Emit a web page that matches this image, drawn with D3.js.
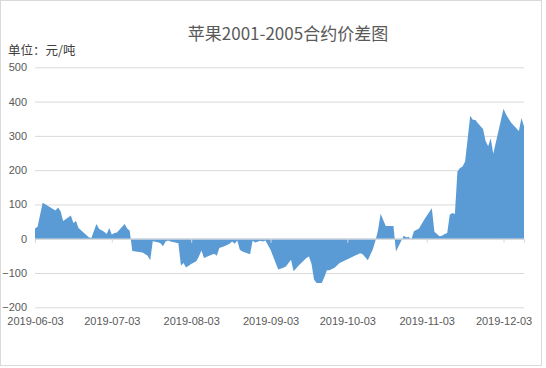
<!DOCTYPE html>
<html><head><meta charset="utf-8">
<script src="https://cdn.jsdelivr.net/npm/d3@7"></script>
<style>body{margin:0;background:#fff}svg{display:block}</style>
</head><body>
<script>
const title = "苹果2001-2005合约价差图";
const unitLabel = "单位：元/吨";
const dates = ["2019-06-03","2019-06-04","2019-06-06","2019-06-11","2019-06-12","2019-06-13","2019-06-14","2019-06-17","2019-06-18","2019-06-19","2019-06-20","2019-06-24","2019-06-25","2019-06-27","2019-06-28","2019-06-30","2019-07-01","2019-07-02","2019-07-03","2019-07-04","2019-07-05","2019-07-08","2019-07-09","2019-07-10","2019-07-11","2019-07-15","2019-07-17","2019-07-18","2019-07-19","2019-07-21","2019-07-22","2019-07-23","2019-07-24","2019-07-25","2019-07-26","2019-07-29","2019-07-30","2019-07-31","2019-08-01","2019-08-03","2019-08-05","2019-08-06","2019-08-07","2019-08-08","2019-08-10","2019-08-12","2019-08-13","2019-08-14","2019-08-16","2019-08-18","2019-08-19","2019-08-20","2019-08-21","2019-08-22","2019-08-23","2019-08-26","2019-08-27","2019-08-28","2019-08-30","2019-08-31","2019-09-01","2019-09-03","2019-09-06","2019-09-08","2019-09-09","2019-09-11","2019-09-12","2019-09-14","2019-09-17","2019-09-18","2019-09-19","2019-09-20","2019-09-21","2019-09-23","2019-09-24","2019-09-25","2019-09-26","2019-09-28","2019-09-30","2019-10-08","2019-10-09","2019-10-11","2019-10-13","2019-10-14","2019-10-15","2019-10-16","2019-10-18","2019-10-21","2019-10-22","2019-10-23","2019-10-25","2019-10-26","2019-10-27","2019-10-28","2019-10-29","2019-10-31","2019-11-02","2019-11-05","2019-11-06","2019-11-08","2019-11-09","2019-11-10","2019-11-11","2019-11-12","2019-11-13","2019-11-14","2019-11-15","2019-11-16","2019-11-17","2019-11-18","2019-11-20","2019-11-21","2019-11-22","2019-11-23","2019-11-25","2019-11-26","2019-11-27","2019-11-28","2019-11-29","2019-12-03","2019-12-04","2019-12-06","2019-12-08","2019-12-09","2019-12-10","2019-12-11"];
const spread = [30,35,105,82,91,80,52,68,46,52,31,4,2,43,29,20,14,31,12,17,18,43,30,23,-36,-40,-50,-63,-7,-10,-13,-22,-8,-5,-8,-13,-79,-71,-84,-74,-66,-52,-34,-56,-50,-44,-50,-27,-22,-15,-8,-15,-5,-32,-37,-45,-6,-11,-6,-8,-5,-32,-90,-85,-81,-61,-95,-78,-56,-52,-73,-120,-129,-129,-112,-92,-92,-85,-71,-42,-45,-63,-30,-5,26,73,37,37,-37,-22,9,4,5,-2,22,30,55,89,20,7,9,14,17,70,75,72,196,206,211,225,359,347,346,337,320,285,270,293,248,379,362,338,322,314,352,328];
const xTickLabels = ["2019-06-03","2019-07-03","2019-08-03","2019-09-03","2019-10-03","2019-11-03","2019-12-03"];
const yTicks = [-200,-100,0,100,200,300,400,500];
const xDomain = ["2019-06-03","2019-12-11"];

const W = 546, H = 368;
const parse = d3.utcParse("%Y-%m-%d");
const data = dates.map((d,i)=>({date:parse(d), v:spread[i]}));

const svg = d3.select("body").append("svg").attr("width",W).attr("height",H);
svg.append("rect").attr("x",0.5).attr("y",0.5).attr("width",541).attr("height",365)
  .attr("fill","#fff").attr("stroke","#d9d9d9");

const x = d3.scaleUtc().domain(xDomain.map(parse)).range([35,524]);
const y = d3.scaleLinear().domain([-200,500]).range([307.3,67.3]);

const font = "'Noto Sans CJK SC', 'Noto Sans', sans-serif";
const numFont = "'Liberation Sans', Arial, sans-serif";

// gridlines + y labels
const ya = svg.append("g").attr("transform","translate(35,0)")
  .call(d3.axisLeft(y).tickValues(yTicks).tickSize(-489).tickPadding(8));
ya.select(".domain").remove();
ya.selectAll(".tick line").attr("stroke","#d9d9d9");
ya.selectAll(".tick text").attr("fill","#595959").attr("font-size",11).attr("font-family",numFont);

// area
const area = d3.area().x(d=>x(d.date)).y0(y(0)).y1(d=>y(d.v));
svg.append("path").datum(data).attr("d",area).attr("fill","#5b9bd5");

// zero axis line with ticks
const xa = svg.append("g").attr("transform",`translate(0,${y(0)})`)
  .call(d3.axisBottom(x).tickValues(xTickLabels.map(parse)).tickSize(4).tickFormat(""));
xa.select(".domain").attr("stroke","#d9d9d9");
xa.selectAll(".tick line").attr("stroke","#d9d9d9");

// bottom labels
const xb = svg.append("g").attr("transform",`translate(0,${y(-200)})`)
  .call(d3.axisBottom(x).tickValues(xTickLabels.map(parse)).tickSize(0).tickPadding(10)
    .tickFormat(d3.utcFormat("%Y-%m-%d")));
xb.select(".domain").remove();
xb.selectAll(".tick text").attr("fill","#595959").attr("font-size",11).attr("font-family",numFont);

svg.append("text").attr("x",288).attr("y",40).attr("text-anchor","middle")
  .attr("font-size",17).attr("fill","#595959").attr("font-family",font).text(title);
svg.append("text").attr("x",8).attr("y",55)
  .attr("font-size",12.5).attr("fill","#404040").attr("font-family",font).text(unitLabel);
</script>
</body></html>
